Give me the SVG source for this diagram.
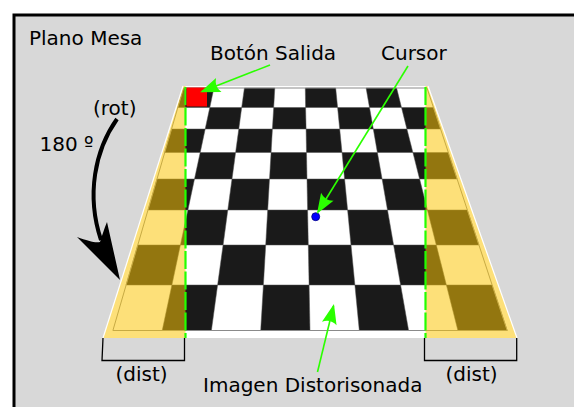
<svg xmlns="http://www.w3.org/2000/svg" width="574" height="407" viewBox="0 0 574 407">
<style>
.t{font-family:"DejaVu Sans","Liberation Sans",sans-serif;font-size:20px;fill:#000}
.blk{fill:#1a1a1a;stroke:#505050;stroke-width:0.5}
.ovl{fill:#fbc507;fill-opacity:0.54}
.gl{stroke:#2bff00;stroke-width:1.6;fill:none}
.gd{stroke:#22ff00;stroke-width:2.2;stroke-dasharray:18 2.5;fill:none}
.brk{stroke:#000;stroke-width:1.3;fill:none}
</style>
<defs>
<marker id="ga" markerUnits="userSpaceOnUse" orient="auto" markerWidth="30" markerHeight="20" viewBox="-24 -10 30 20" refX="0" refY="0" overflow="visible">
<path d="M2,0 L-18,-7.5 Q-13,0 -18,7.5 Z" fill="#2bff00"/>
</marker>
</defs>
<rect width="574" height="407" fill="#fff"/>
<g id="frame">
<rect x="14" y="15" width="620" height="450" fill="#d8d8d8" stroke="#000" stroke-width="3"/>
<text class="t" x="29" y="44.5">Plano Mesa</text>
</g>
<g id="board">
<polygon points="183,86 428,86 517,338 103,338" fill="#fff"/>
<g id="squares">
<polygon class="blk" points="183.5,88 213.9,88 209.8,107.5 177.8,107.5"/>
<polygon class="blk" points="244.4,88 274.8,88 273.7,107.5 241.7,107.5"/>
<polygon class="blk" points="305.3,88 335.7,88 337.6,107.5 305.6,107.5"/>
<polygon class="blk" points="366.1,88 396.6,88 401.5,107.5 369.5,107.5"/>
<polygon class="blk" points="209.8,107.5 241.7,107.5 238.8,129 205.2,129"/>
<polygon class="blk" points="273.7,107.5 305.6,107.5 306.1,129 272.4,129"/>
<polygon class="blk" points="337.6,107.5 369.5,107.5 373.3,129 339.7,129"/>
<polygon class="blk" points="401.5,107.5 433.5,107.5 440.6,129 406.9,129"/>
<polygon class="blk" points="171.6,129 205.2,129 200.2,152.5 164.7,152.5"/>
<polygon class="blk" points="238.8,129 272.4,129 271.1,152.5 235.6,152.5"/>
<polygon class="blk" points="306.1,129 339.7,129 342.0,152.5 306.5,152.5"/>
<polygon class="blk" points="373.3,129 406.9,129 412.9,152.5 377.4,152.5"/>
<polygon class="blk" points="200.2,152.5 235.6,152.5 232.0,179 194.5,179"/>
<polygon class="blk" points="271.1,152.5 306.5,152.5 307.0,179 269.5,179"/>
<polygon class="blk" points="342.0,152.5 377.4,152.5 382.1,179 344.6,179"/>
<polygon class="blk" points="412.9,152.5 448.3,152.5 457.1,179 419.6,179"/>
<polygon class="blk" points="157.0,179 194.5,179 187.9,210 148.0,210"/>
<polygon class="blk" points="232.0,179 269.5,179 267.7,210 227.8,210"/>
<polygon class="blk" points="307.0,179 344.6,179 347.6,210 307.6,210"/>
<polygon class="blk" points="382.1,179 419.6,179 427.4,210 387.5,210"/>
<polygon class="blk" points="187.9,210 227.8,210 223.1,245 180.4,245"/>
<polygon class="blk" points="267.7,210 307.6,210 308.3,245 265.7,245"/>
<polygon class="blk" points="347.6,210 387.5,210 393.6,245 351.0,245"/>
<polygon class="blk" points="427.4,210 467.3,210 478.9,245 436.3,245"/>
<polygon class="blk" points="137.8,245 180.4,245 171.9,285 126.1,285"/>
<polygon class="blk" points="223.1,245 265.7,245 263.4,285 217.6,285"/>
<polygon class="blk" points="308.3,245 351.0,245 354.9,285 309.1,285"/>
<polygon class="blk" points="393.6,245 436.3,245 446.4,285 400.6,285"/>
<polygon class="blk" points="171.9,285 217.6,285 211.4,330.5 162.2,330.5"/>
<polygon class="blk" points="263.4,285 309.1,285 310.0,330.5 260.7,330.5"/>
<polygon class="blk" points="354.9,285 400.6,285 408.6,330.5 359.3,330.5"/>
<polygon class="blk" points="446.4,285 492.1,285 507.2,330.5 457.9,330.5"/>
</g>
<polygon points="183.5,88 427,88 507.2,330.5 112.9,330.5" fill="none" stroke="#8a8a8a" stroke-width="1"/>
<polygon class="ovl" points="183,86 185.5,86 185.5,338 103,338"/>
<polygon class="ovl" points="425.5,86 428,86 517,338 425.5,338"/>
<line x1="183" y1="86" x2="103" y2="338" stroke="#fff" stroke-width="1.2"/>
<line x1="428" y1="86" x2="517" y2="338" stroke="#fff" stroke-width="1.2"/>
<line class="gd" x1="185.5" y1="87" x2="185.5" y2="338"/>
<line class="gd" x1="425.5" y1="87" x2="425.5" y2="338"/>
</g>
<g id="boton-salida">
<rect x="186.5" y="87.5" width="20.5" height="19" fill="#ff0000"/>
<text class="t" x="210" y="60">Botón Salida</text>
</g>
<g id="cursor">
<circle cx="315.7" cy="216.7" r="4" fill="#0000ff" stroke="#000080" stroke-width="0.8"/>
<text class="t" x="381" y="60">Cursor</text>
</g>
<g id="rotacion">
<text class="t" x="93" y="114.5">(rot)</text>
<text class="t" x="39.5" y="151">180 º</text>
</g>
<g id="dist-left">
<text class="t" x="141.5" y="381" text-anchor="middle">(dist)</text>
</g>
<g id="dist-right">
<text class="t" x="471.5" y="381" text-anchor="middle">(dist)</text>
</g>
<g id="imagen">
<text class="t" x="203" y="392">Imagen Distorisonada</text>
</g>
<g id="connectors">
<path class="gl" d="M270,65 L202,91.5" marker-end="url(#ga)"/>
<path class="gl" d="M408,66 L318,212" marker-end="url(#ga)"/>
<path class="gl" d="M317.5,372 L333.5,306" marker-end="url(#ga)"/>
<path d="M117,119 C95,150 86,195 101,240" fill="none" stroke="#000" stroke-width="4"/>
<path d="M120,280 L77,237 C88,241 95,243 100,242 C102,236 104,229 107,222 Z" fill="#000"/>
<path class="brk" d="M103,338 L102,360.5 L184.5,360.5 L184.5,338"/>
<path class="brk" d="M424.5,338 L424.5,360.5 L516.7,360.5 L516.7,338"/>
</g>
</svg>
